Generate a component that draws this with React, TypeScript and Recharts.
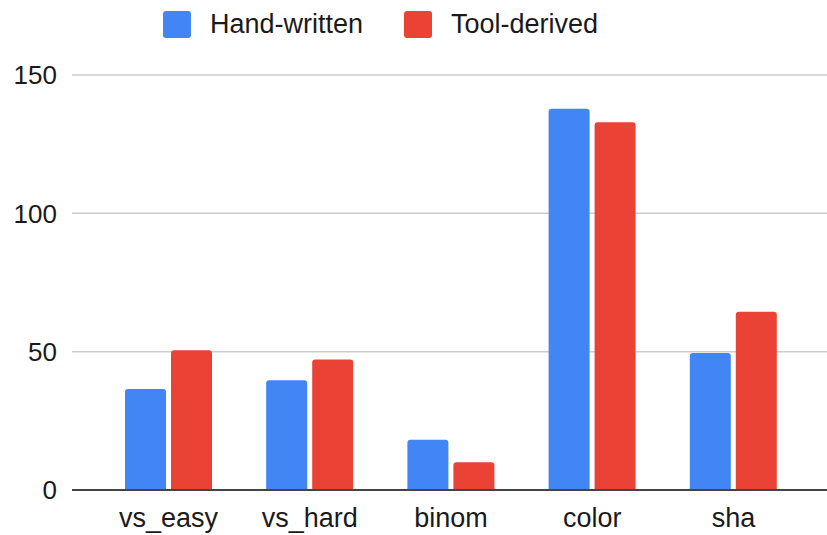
import React from "react";
import { BarChart, Bar, XAxis, YAxis, CartesianGrid, Legend } from "recharts";

const categories = ["vs_easy", "vs_hard", "binom", "color", "sha"];
const handWritten = [36.5, 39.7, 18.2, 137.8, 49.5];
const toolDerived = [50.5, 47.2, 10.0, 132.9, 64.4];
const yTicks = [0, 50, 100, 150];
const seriesNames = ["Hand-written", "Tool-derived"];
const seriesColors = ["#4285F4", "#EA4335"];

const data = categories.map((c, i) => ({
  name: c,
  hand: handWritten[i],
  tool: toolDerived[i],
}));

const FONT = "'Liberation Sans', Arial, Helvetica, sans-serif";

const LegendContent = () => (
  <div style={{ position: "relative", height: 50, width: 827, fontFamily: FONT }}>
    {seriesNames.map((n, i) => (
      <div
        key={n}
        style={{
          position: "absolute",
          left: i === 0 ? 163 : 404,
          top: 11,
          display: "flex",
          alignItems: "center",
        }}
      >
        <div
          style={{
            width: 28,
            height: 27,
            borderRadius: 3,
            background: seriesColors[i],
          }}
        />
        <span
          style={{
            marginLeft: 19,
            fontSize: 27,
            color: "#1a1a1a",
            lineHeight: "27px",
          }}
        >
          {n}
        </span>
      </div>
    ))}
  </div>
);

export default function App() {
  return (
    <div style={{ position: "absolute", left: 0, top: 0, width: 827, height: 535, background: "#fff" }}>
      <BarChart
        width={827}
        height={535}
        data={data}
        margin={{ top: 25, right: 0, bottom: 0, left: 0 }}
        barGap={5}
        barSize={41}
      >
        <CartesianGrid vertical={false} stroke="#cccccc" strokeWidth={1.5} />
        <Legend
          verticalAlign="top"
          align="left"
          wrapperStyle={{ top: 0, left: 0 }}
          content={() => <LegendContent />}
        />
        <XAxis
          dataKey="name"
          tickLine={false}
          axisLine={{ stroke: "#444", strokeWidth: 2 }}
          tick={{ fontSize: 27, fill: "#1a1a1a", fontFamily: FONT }}
          tickSize={0}
          tickMargin={18}
          height={45}
          padding={{ left: 26, right: 23 }}
          interval={0}
        />
        <YAxis
          domain={[0, 150]}
          ticks={yTicks}
          width={72}
          tickLine={false}
          axisLine={false}
          tickSize={0}
          tickMargin={15}
          tick={{ fontSize: 26, fill: "#1a1a1a", fontFamily: FONT }}
        />
        <Bar dataKey="hand" name={seriesNames[0]} fill={seriesColors[0]} radius={[3, 3, 0, 0]} isAnimationActive={false} />
        <Bar dataKey="tool" name={seriesNames[1]} fill={seriesColors[1]} radius={[3, 3, 0, 0]} isAnimationActive={false} />
      </BarChart>
    </div>
  );
}
